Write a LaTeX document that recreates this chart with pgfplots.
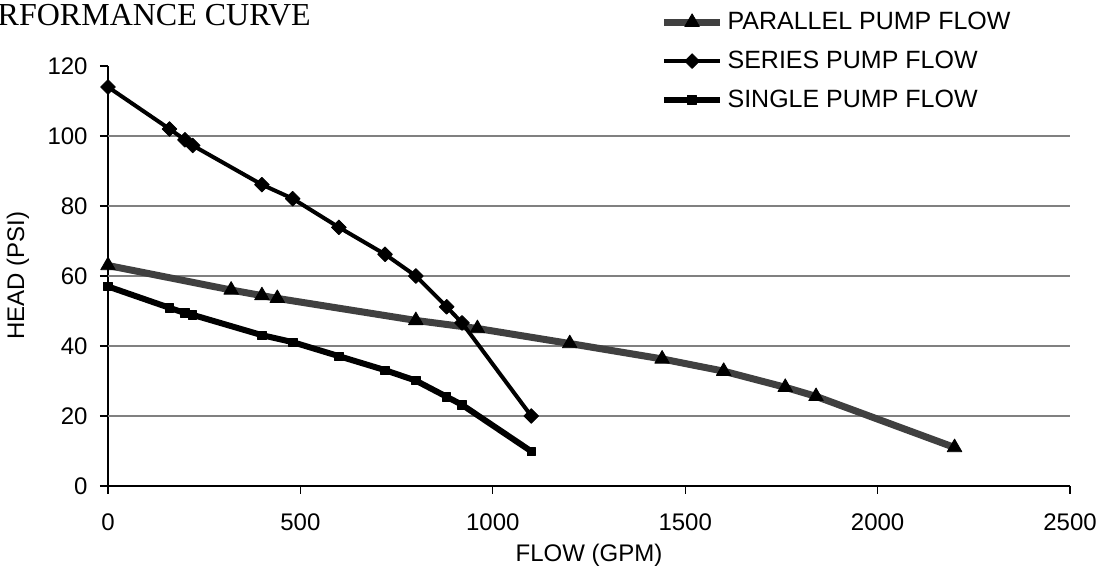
\documentclass[border=0pt]{standalone}
\usepackage{fontspec}
\setmainfont{Liberation Sans}
\newfontfamily\timesfont{Liberation Serif}
\usepackage{pgfplots}
\pgfplotsset{compat=1.18}
\definecolor{pargray}{HTML}{404040}
\definecolor{gridgray}{HTML}{808080}

\begin{document}
\begin{tikzpicture}
\begin{axis}[
  scale only axis, width=481pt, height=210pt,
  xmin=0, xmax=2500, ymin=0, ymax=120,
  xtick={0,500,...,2500}, ytick={0,20,...,120},
  scaled ticks=false,
  /pgf/number format/1000 sep={},
  /pgf/number format/assume math mode=true,
  axis x line*=bottom, axis y line*=left,
  axis line style={-, black, line width=0.6pt},
  tick align=outside, major tick length=4pt,
  tick style={black, line width=0.6pt},
  extra y ticks={20,40,60,80,100}, extra y tick labels={},
  extra y tick style={grid=major, major tick length=0pt},
  major grid style={gridgray, line width=0.7pt},
  ticklabel style={font=\fontsize{12}{14}\selectfont},
  yticklabel style={inner sep=0pt, xshift=-6pt},
  xticklabel style={inner sep=0pt, yshift=-9.5pt},
  xlabel={FLOW (GPM)}, ylabel={HEAD (PSI)},
  label style={font=\fontsize{12}{14}\selectfont},
  xlabel style={at={(axis description cs:0.5,-0.165)}, anchor=center},
  ylabel style={at={(axis description cs:-0.0936,0.5)}, anchor=center},
  legend style={at={(axis description cs:0.574,1.139)}, anchor=north west,
    draw=none, fill=none, font=\fontsize{12.5}{14.5}\selectfont,
    row sep=5.2pt, inner sep=0pt},
  legend cell align=left,
  legend image code/.code={\draw[mark repeat=2,mark phase=2,#1] plot coordinates {(0pt,0pt) (14pt,0pt) (28pt,0pt)};},
]
\coordinate (o) at (axis cs:0,0);
\addplot[pargray, line width=3.5pt, line join=round, mark=triangle*, mark size=4.2pt,
  mark options={draw=black, fill=black, line width=0.4pt}] coordinates {
  (0,63) (320,56) (400,54.4) (440,53.6) (800,47.3) (960,45) (1200,40.7)
  (1440,36.3) (1600,32.8) (1760,28.2) (1840,25.6) (2200,11)};
\addlegendentry{PARALLEL PUMP FLOW}
\addplot[black, line width=2pt, line join=round, mark=square*, mark size=2.6pt,
  mark options={rotate=45, line width=0.4pt}] coordinates {
  (0,114) (160,102) (200,98.9) (220,97.3) (400,86.1) (480,82.1) (600,73.9)
  (720,66.2) (800,60) (880,51.2) (920,46.6) (1100,20)};
\addlegendentry{SERIES PUMP FLOW}
\addplot[black, line width=3pt, line join=round, mark=square*, mark size=2.1pt,
  mark options={line width=0.4pt}] coordinates {
  (0,57) (160,50.9) (200,49.4) (220,48.9) (400,43.1) (480,41.1) (600,37.1)
  (720,33.1) (800,30.1) (880,25.5) (920,23.2) (1100,9.9)};
\addlegendentry{SINGLE PUMP FLOW}
\end{axis}
\node[anchor=base west, inner sep=0pt, font=\timesfont\fontsize{16}{19}\selectfont]
  at ([shift={(-74pt,230pt)}]o) {PERFORMANCE CURVE};
\pgfresetboundingbox
\path[use as bounding box] ([shift={(-54pt,-45pt)}]o) rectangle ([shift={(497pt,243pt)}]o);
\end{tikzpicture}
\end{document}
